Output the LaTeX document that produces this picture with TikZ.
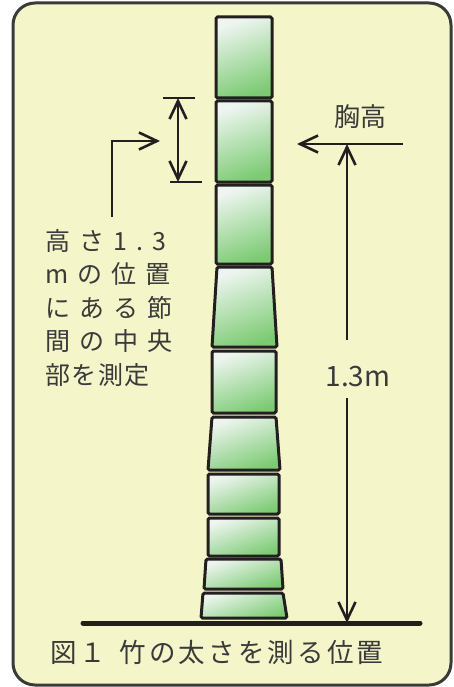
\documentclass[tikz,border=0pt]{standalone}
\usepackage{fontspec}
\setmainfont{Noto Sans CJK JP}
\usetikzlibrary{arrows.meta}

\definecolor{panel}{HTML}{F4F5C8}
\definecolor{ink}{HTML}{231F20}
\definecolor{txt}{HTML}{3A3A3A}
\definecolor{culmtop}{HTML}{EEF5F0}
\definecolor{culmbot}{HTML}{7CCB73}

\tikzset{
  culm/.style={draw=ink, line width=3pt, rounded corners=1.5pt,
    top color=culmtop, bottom color=culmbot, shading angle=20},
  dim/.style={draw=ink, line width=2.6pt},
  tag/.style={text=txt, inner sep=0pt},
}

\begin{document}
\begin{tikzpicture}[x=1pt, y=-1pt, >={Straight Barb[length=18pt, width=17pt]}]
  \useasboundingbox (0,0) rectangle (453,687);
  \draw[line width=3pt, draw=txt, fill=panel, rounded corners=22pt]
    (13,3) rectangle (451,685);

  % internodes of the culm, top to bottom: tl/tr/bl/br/top/bottom
  \foreach \tl/\tr/\bl/\br/\ty/\by in {
      216/272/216/272/17/98, 216/272/216/272/101/182,
      216/272/216/272/185/264, 217/272/212/277/267/347,
      212/276/212/276/351/413, 212/276/208/280/417/470,
      208/279/208/279/474/514, 208/279/208/279/518/556,
      206/281/204/283/559/589, 203/283/201/287/593/618}
    \path[culm] (\tl,\ty) -- (\tr,\ty) -- (\br,\by) -- (\bl,\by) -- cycle;

  % ground
  \coordinate (gl) at (83,623);
  \coordinate (gr) at (420,623);
  \draw[ink, line width=5pt, line cap=round] (gl) -- (gr);

  % labels
  \node[tag, font=\fontsize{26}{26}\selectfont] (bh) at (360,117) {胸高};
  \node[tag, font=\fontsize{28}{28}\selectfont] (len) at (358,377) {1.3m};
  \node[tag, anchor=north west, align=left,
    font=\fontsize{25}{33.5}\selectfont\addfontfeature{LetterSpace=36}] (note) at (45,229)
    {高さ1.3\\mの位置\\にある節\\間の中央\\{\addfontfeature{LetterSpace=6}部を測定}};
  \node[tag, anchor=west, font=\fontsize{26.5}{26.5}\selectfont\addfontfeature{LetterSpace=12}]
    (caption) at (50,652) {図１\hspace{4pt} 竹の太さを測る位置};

  % breast height and 1.3 m
  \coordinate (bhend) at (403,144);
  \coordinate (bhtip) at (297,144);
  \coordinate (bhfoot) at (347,144);
  \coordinate (uptop) at (347,340);
  \coordinate (downtop) at (347,398);
  \coordinate (groundmark) at (347,623);
  \draw[dim, ->] (bhend) -- (bhtip);
  \draw[dim, ->] (uptop) -- (bhfoot);
  \draw[dim, ->] (downtop) -- (groundmark);

  % internode being measured
  \coordinate (dimtop) at (178,98);
  \coordinate (dimbot) at (178,182);
  \draw[dim] (163,98) -- (195,98);
  \draw[dim] (170,182) -- (202,182);
  \draw[dim, <->] (dimtop) -- (dimbot);
  \coordinate (notefoot) at (112,217);
  \coordinate (notetip) at (160,141);
  \draw[dim, ->] (notefoot) |- (notetip);
\end{tikzpicture}
\end{document}
